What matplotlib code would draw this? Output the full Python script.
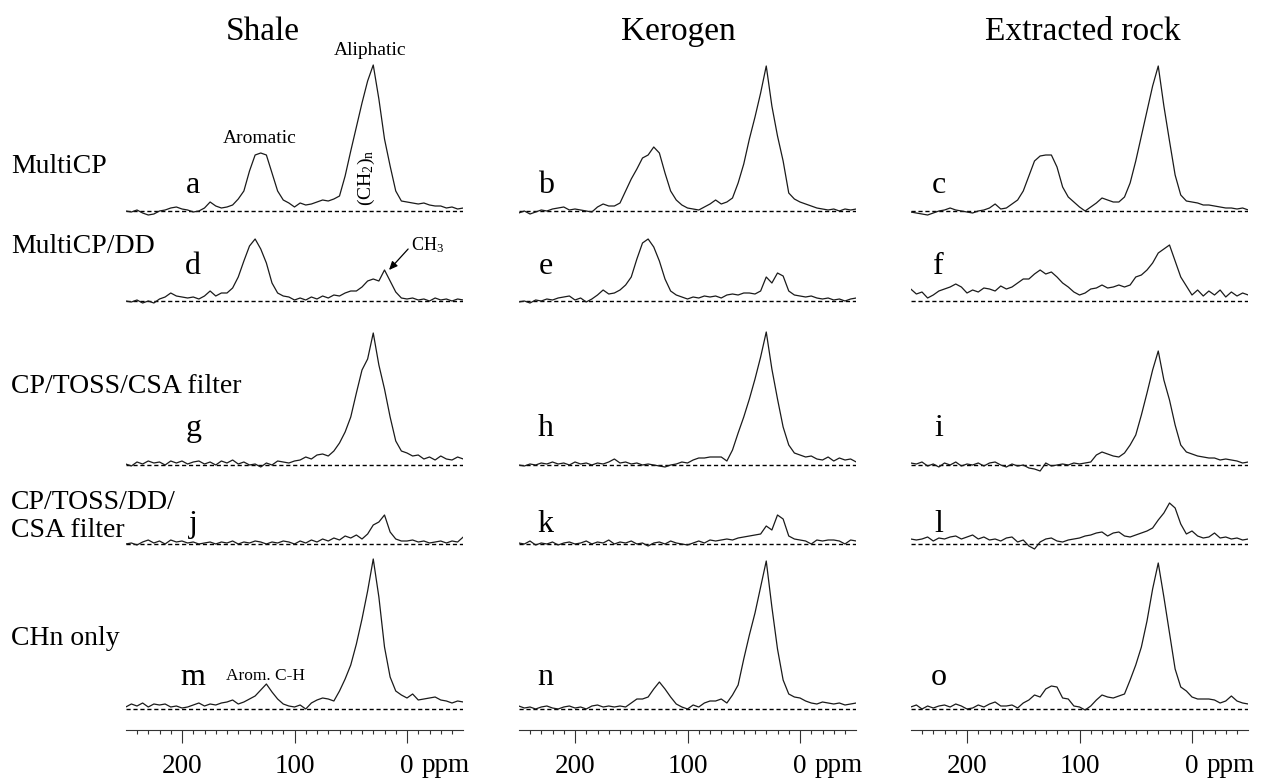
import numpy as np
import matplotlib
matplotlib.use("Agg")
import matplotlib.pyplot as plt
from matplotlib.ticker import FixedLocator

plt.rcParams['font.family'] = 'Liberation Serif'
plt.rcParams['mathtext.fontset'] = 'custom'
plt.rcParams['mathtext.rm'] = 'Liberation Serif'
plt.rcParams['mathtext.it'] = 'Liberation Serif:italic'
plt.rcParams['mathtext.bf'] = 'Liberation Serif:bold'

# chemical shift grid (ppm), 250 -> -50 in 5 ppm steps
shift = np.arange(250, -55, -5)

samples = ["Shale", "Kerogen", "Extracted rock"]
experiments = ["MultiCP", "MultiCP/DD", "CP/TOSS/CSA filter", ["CP/TOSS/DD/", "CSA filter"], "CHn only"]
panel_letters = ["abc", "def", "ghi", "jkl", "mno"]
tick_values = [200, 100, 0]
tick_labels = ["200", "100", "0"]

# 13C intensities (arb. units) on the shift grid
shale_multicp = [0, -1, 1, -2, -4, -3, 0, 1, 3, 4, 2, 1, -1, 0, 3, 9, 5, 3, 4, 6,
                 12, 20, 40, 56, 58, 56, 38, 20, 11, 8, 4, 8, 6, 7, 9, 11, 10, 12, 15, 35,
                 60, 84, 108, 130, 146, 112, 72, 45, 20, 10, 9, 8, 7, 8, 6, 5, 5, 3, 4, 2, 3]
shale_multicp_dd = [0, -1, 1, -2, 0, -2, 2, 4, 8, 5, 4, 3, 4, 2, 5, 10, 5, 8, 8, 13,
                    24, 40, 55, 62, 52, 38, 18, 8, 5, 4, 1, 3, 1, 4, 2, 5, 3, 6, 5, 8,
                    10, 10, 14, 20, 22, 20, 31, 20, 9, 3, 2, 3, 1, 2, 0, 3, 1, 2, 0, 2, 1]
shale_csa = [1, -1, 3, 1, 4, 2, 3, 0, 4, 2, 4, 1, 3, 4, 1, 3, 0, 4, 2, 5,
             1, 3, 0, 1, -2, 2, 0, 4, 3, 2, 4, 5, 8, 6, 10, 11, 9, 14, 22, 33,
             48, 72, 95, 106, 132, 100, 76, 48, 24, 14, 12, 9, 10, 6, 8, 5, 9, 6, 5, 8, 6]
shale_dd_csa = [0, 1, -1, 2, 4, 1, 3, 0, 4, 2, 3, 1, 2, 0, 1, 2, 0, 2, 1, 3,
                0, 2, 1, 3, 2, 0, 2, 1, 3, 2, 0, 3, 1, 4, 2, 5, 3, 6, 4, 8,
                6, 9, 5, 10, 19, 22, 29, 12, 5, 3, 3, 4, 2, 3, 1, 2, 3, 1, 3, 2, 7]
shale_chn = [2, 5, 3, 6, 2, 5, 4, 5, 2, 3, 1, 2, 4, 6, 3, 5, 4, 6, 7, 9,
             5, 7, 10, 13, 19, 25, 17, 10, 5, 3, 2, 4, 0, 6, 9, 11, 10, 8, 18, 30,
             44, 65, 90, 118, 150, 112, 62, 32, 18, 14, 11, 15, 9, 10, 11, 12, 9, 8, 6, 8, 7]

kerogen_multicp = [-2, 0, -3, -1, 1, 0, 2, 3, 4, 1, 2, 1, 0, -1, 4, 7, 5, 5, 8, 20,
                   32, 42, 53, 56, 64, 58, 38, 20, 11, 6, 3, 2, 1, 4, 7, 11, 7, 9, 13, 28,
                   47, 72, 94, 118, 145, 105, 75, 50, 18, 12, 9, 7, 5, 3, 2, 1, 2, 0, 2, 1, 2]
kerogen_multicp_dd = [-1, 0, -2, 1, 0, 2, 1, 3, 4, 5, 1, 3, -1, 2, 6, 11, 7, 8, 11, 16,
                      24, 42, 58, 62, 54, 40, 22, 10, 6, 4, 2, 4, 3, 5, 4, 5, 3, 6, 7, 6,
                      8, 8, 7, 10, 24, 18, 28, 25, 10, 6, 5, 4, 5, 3, 2, 3, 1, 2, 0, 2, 3]
kerogen_csa = [0, -1, 1, 0, 2, 1, 3, 1, 2, 0, 3, 1, 2, 0, 2, 1, 3, 6, 2, 3,
               1, 2, 0, 1, 0, -1, -2, 0, 1, 3, 2, 5, 7, 7, 8, 8, 8, 4, 15, 32,
               48, 66, 86, 108, 133, 96, 66, 38, 20, 12, 10, 8, 9, 6, 5, 8, 4, 7, 5, 6, 3]
kerogen_dd_csa = [1, 0, 3, -1, 1, 0, 2, -1, 1, 2, 0, 1, 3, 0, 2, 1, 4, 0, 2, 1,
                  3, 0, 1, -2, 1, 2, 0, 3, 1, 0, -1, 1, 3, 1, 4, 3, 4, 5, 4, 6,
                  7, 8, 9, 10, 18, 14, 29, 25, 8, 5, 4, 3, 0, 4, 3, 4, 4, 3, 0, 4, 3]
kerogen_chn = [3, 1, 2, 0, 2, 3, 1, 0, 2, 3, 1, 2, 0, 3, 4, 2, 3, 2, 3, 2,
               6, 10, 10, 12, 20, 27, 20, 12, 5, 2, 0, 4, 2, 6, 8, 8, 10, 6, 14, 24,
               50, 74, 96, 122, 148, 102, 60, 29, 15, 12, 11, 8, 6, 5, 7, 6, 5, 6, 4, 5, 6]

rock_multicp = [-1, -2, -3, -4, -2, 0, 1, 3, 1, 0, -1, -2, 0, 1, 3, 7, 2, 3, 7, 11,
                20, 35, 50, 55, 56, 56, 44, 24, 14, 9, 4, 0, 4, 8, 13, 11, 9, 9, 14, 28,
                50, 75, 100, 125, 145, 105, 70, 36, 16, 10, 9, 8, 6, 6, 5, 4, 3, 3, 2, 3, 1]
rock_multicp_dd = [12, 7, 9, 3, 6, 10, 12, 14, 17, 14, 8, 11, 9, 13, 12, 10, 15, 12, 14, 18,
                   22, 22, 27, 31, 27, 29, 24, 18, 14, 9, 6, 8, 12, 13, 16, 13, 14, 16, 14, 16,
                   24, 26, 31, 38, 48, 52, 56, 40, 24, 15, 6, 11, 5, 10, 6, 11, 4, 9, 5, 8, 6]
rock_csa = [2, 1, 3, -1, 1, -2, 2, 0, 3, -1, 1, 0, 2, -1, 2, 3, 0, -2, 1, -1,
            0, -3, -4, -6, 2, -1, 0, 1, 0, 2, 1, 2, 3, 10, 13, 11, 9, 8, 12, 20,
            30, 50, 72, 95, 114, 85, 65, 40, 20, 13, 11, 9, 8, 7, 7, 5, 6, 5, 4, 2, 3]
rock_dd_csa = [5, 4, 5, 7, 3, 6, 5, 7, 8, 5, 7, 9, 5, 7, 4, 5, 3, 6, 7, 2,
               4, -2, -5, 2, 5, 6, 3, 2, 4, 5, 6, 8, 9, 11, 12, 8, 11, 12, 8, 7,
               9, 11, 13, 16, 24, 31, 41, 36, 20, 10, 13, 8, 6, 7, 11, 6, 7, 5, 6, 4, 5]
rock_chn = [2, 4, 0, 3, 1, 3, 4, 2, 5, 3, 0, 1, 4, 2, 5, 7, 3, 3, 4, 1,
            6, 9, 14, 12, 20, 23, 22, 11, 10, 3, 2, -1, 3, 9, 14, 12, 11, 13, 15, 29,
            44, 62, 88, 120, 146, 112, 76, 40, 22, 18, 12, 10, 10, 10, 9, 6, 8, 13, 8, 6, 5]

spectra = {
    "Shale": [shale_multicp, shale_multicp_dd, shale_csa, shale_dd_csa, shale_chn],
    "Kerogen": [kerogen_multicp, kerogen_multicp_dd, kerogen_csa, kerogen_dd_csa, kerogen_chn],
    "Extracted rock": [rock_multicp, rock_multicp_dd, rock_csa, rock_dd_csa, rock_chn],
}

# layout (pixels of the 1262x779 canvas)
W, H = 1262, 779
AXIS_Y = 730                      # x-axis line, px from top
COL_LEFT = [125.75, 518.75, 910.75]
COL_W = 337.5
ROW_BASE = [519, 429, 265, 186, 21]   # baseline of each row above the x-axis
LETTER_X = [190, 226, 225]
LETTER_Y = [537, 456, 294, 198, 45]
TITLE_X = [128, 108, 97]
LINE = '#1a1a1a'


def plot_column(fig, col, sample):
    """Draws one sample's five spectra stacked on a common ppm axis."""
    ax = fig.add_axes([COL_LEFT[col] / W, (H - AXIS_Y) / H, COL_W / W, AXIS_Y / H])
    ax.set_xlim(250, -50)
    ax.set_ylim(0, AXIS_Y)
    ax.patch.set_visible(False)

    for r, (base, y) in enumerate(zip(ROW_BASE, spectra[sample])):
        ax.plot([250, -50], [base, base], ls=(0, (3, 2)), lw=1.0, color='k', zorder=1)
        ax.plot(shift, base + np.asarray(y), lw=0.9, color=LINE, zorder=2)
        ax.text(LETTER_X[col], LETTER_Y[r], panel_letters[r][col], fontsize=23,
                ha='center', va='baseline')

    ax.text(TITLE_X[col], 690, sample, fontsize=24, ha='center', va='baseline')

    for side in ('left', 'right', 'top'):
        ax.spines[side].set_visible(False)
    ax.spines['bottom'].set_color('#333333')
    ax.spines['bottom'].set_linewidth(0.8)
    ax.set_yticks([])
    ax.xaxis.set_major_locator(FixedLocator(tick_values))
    ax.xaxis.set_minor_locator(FixedLocator([v for v in range(240, -50, -10) if v % 100]))
    ax.set_xticklabels(tick_labels)
    ax.tick_params(axis='x', which='major', length=9.5, width=0.8, color='#333333',
                   labelsize=19.5, pad=7.5)
    ax.tick_params(axis='x', which='minor', length=3.2, width=0.8, color='#333333')
    ax.text(-13.3, -42, 'ppm', fontsize=19.5, ha='left', va='baseline')
    return ax


def plot_figure(fig_location="out.png"):
    fig = plt.figure(figsize=(W / 100, H / 100), dpi=100)
    axes = [plot_column(fig, c, s) for c, s in enumerate(samples)]

    # row labels on the left
    label_base = [173, 253, 393, 509, 645]
    for name, y in zip(experiments, label_base):
        lines = name if isinstance(name, list) else [name]
        for k, line in enumerate(lines):
            fig.text(11 / W, 1 - (y + 28 * k) / H, line, fontsize=20, ha='left', va='baseline')

    # peak assignments on the shale spectra
    ax = axes[0]
    ax.text(131, 587, 'Aromatic', fontsize=14, ha='center', va='baseline')
    ax.text(33, 675, 'Aliphatic', fontsize=14, ha='center', va='baseline')
    ax.text(36, 552, '(CH$_2$)$_\\mathrm{n}$', fontsize=14, rotation=90,
            ha='center', va='center')
    ax.text(-3.5, 485, 'CH$_3$', fontsize=13, ha='left', va='center')
    ax.annotate('', xy=(16, 460), xytext=(-1, 481),
                arrowprops=dict(arrowstyle='-|>,head_length=0.5,head_width=0.22',
                                lw=0.9, color='k', shrinkA=0, shrinkB=0))
    ax.text(126, 50, 'Arom. C-H', fontsize=12.5, ha='center', va='baseline')

    if fig_location:
        fig.savefig(fig_location, dpi=100)


if __name__ == "__main__":
    plot_figure("out.png")
